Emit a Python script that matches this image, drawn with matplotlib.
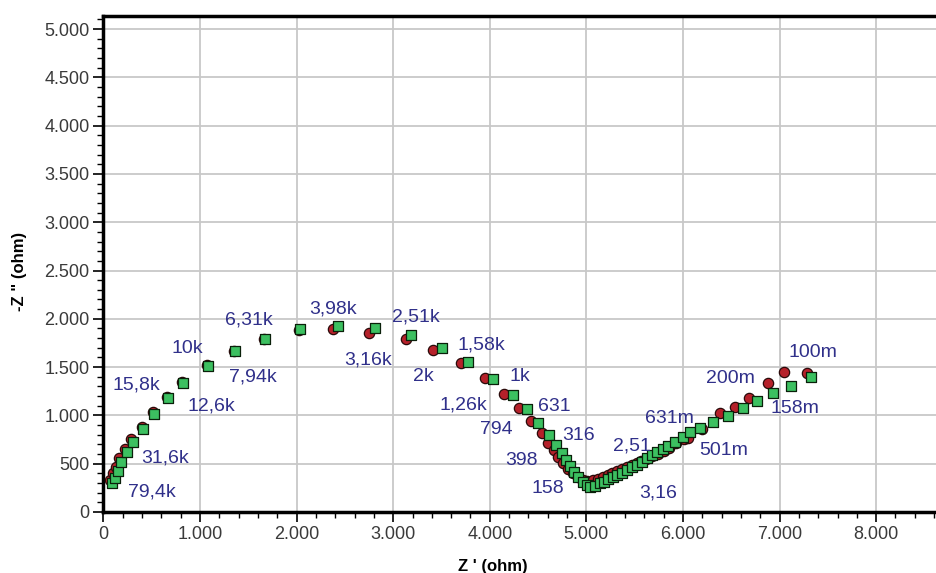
import matplotlib
matplotlib.use("Agg")
import matplotlib.pyplot as plt
from matplotlib.ticker import MultipleLocator, FuncFormatter

plt.rcParams['font.family'] = ['Liberation Sans', 'DejaVu Sans']

# green series (Z', -Z'')
green_x = [86, 120, 148, 182, 241, 310, 413, 524, 672, 827,
           1086, 1365, 1676, 2038, 2432, 2808, 3181, 3502, 3777, 4030,
           4237, 4388, 4502, 4613, 4685, 4744, 4789, 4830, 4875, 4916,
           4962, 5003, 5037, 5089, 5141, 5182, 5227, 5272, 5320, 5365,
           5417, 5469, 5521, 5572, 5624, 5676, 5734, 5790, 5848, 5917,
           5997, 6072, 6176, 6308, 6463, 6618, 6763, 6929, 7115, 7322]
green_y = [297, 352, 428, 521, 618, 728, 856, 1011, 1177, 1338,
           1511, 1664, 1791, 1891, 1925, 1905, 1829, 1701, 1556, 1377,
           1208, 1066, 918, 797, 694, 608, 538, 476, 417, 365,
           314, 280, 256, 269, 297, 314, 339, 359, 383, 407,
           435, 463, 487, 521, 556, 590, 624, 652, 683, 728,
           780, 831, 870, 929, 994, 1073, 1152, 1229, 1304, 1394]

# red series
red_x = [70, 100, 130, 165, 225, 290, 395, 510, 655, 815,
         1070, 1355, 1665, 2025, 2380, 2753, 3133, 3415, 3702, 3950,
         4147, 4302, 4427, 4543, 4606, 4660, 4710, 4760, 4810, 4860,
         4910, 4960, 5010, 5071, 5120, 5170, 5220, 5270, 5320, 5370,
         5420, 5470, 5520, 5570, 5620, 5680, 5740, 5800, 5860, 5930,
         6010, 6055, 6193, 6383, 6538, 6686, 6883, 7045, 7287]
red_y = [330, 400, 470, 560, 650, 760, 880, 1030, 1190, 1350,
         1520, 1670, 1795, 1880, 1891, 1856, 1788, 1674, 1542, 1390,
         1222, 1077, 945, 821, 717, 640, 570, 505, 450, 400,
         360, 335, 325, 331, 345, 360, 380, 400, 420, 440,
         462, 485, 505, 527, 550, 575, 600, 630, 665, 710,
         760, 763, 856, 1022, 1090, 1183, 1332, 1449, 1436]

# frequency annotations (text, x, y)
freq_labels = ["79,4k", "31,6k", "15,8k", "12,6k", "10k", "7,94k", "6,31k",
               "3,98k", "3,16k", "2,51k", "2k", "1,58k", "1,26k", "1k",
               "794", "631", "398", "316", "158", "2,51", "3,16",
               "631m", "501m", "200m", "158m", "100m"]
freq_x = [500, 638, 337, 1121, 873, 1552, 1510,
          2374, 2739, 3236, 3308, 3916, 3723, 4313,
          4071, 4665, 4330, 4923, 4602, 5469, 5744,
          5858, 6417, 6494, 7159, 7349]
freq_y = [210, 556, 1315, 1097, 1695, 1401, 1988,
          2098, 1573, 2022, 1401, 1729, 1108, 1401,
          849, 1097, 538, 787, 248, 686, 194,
          970, 635, 1384, 1073, 1649]

fig = plt.figure(figsize=(9.37, 5.73), dpi=100)
ax = fig.add_axes([0.1104, 0.1065, 0.8896, 0.8656])

ax.scatter(red_x, red_y, s=55, marker='o', color='#b5212a',
           edgecolors='#2a0a0a', linewidths=0.9, zorder=3)
ax.scatter(green_x, green_y, s=45, marker='s', color='#3cc060',
           edgecolors='#0a200a', linewidths=0.9, zorder=4)

for t, x, y in zip(freq_labels, freq_x, freq_y):
    ax.text(x, y, t, ha='center', va='center', fontsize=14,
            color='#30308a', zorder=5)

ax.set_xlim(0, 8630)
ax.set_ylim(0, 5135)
ax.xaxis.set_major_locator(MultipleLocator(1000))
ax.xaxis.set_minor_locator(MultipleLocator(200))
ax.yaxis.set_major_locator(MultipleLocator(500))
ax.yaxis.set_minor_locator(MultipleLocator(100))
fmt = FuncFormatter(lambda v, p: '{:,}'.format(int(round(v))).replace(',', '.'))
ax.xaxis.set_major_formatter(fmt)
ax.yaxis.set_major_formatter(fmt)

ax.grid(True, which='major', color='#c8c8c8', linewidth=1.3)
ax.set_axisbelow(True)
for side in ['left', 'top', 'bottom']:
    ax.spines[side].set_linewidth(2.5)
    ax.spines[side].set_color('black')
ax.spines['right'].set_visible(False)

ax.tick_params(which='major', direction='out', length=7, width=1.2,
               labelsize=13, labelcolor='#3a3a3a', pad=3)
ax.tick_params(which='minor', direction='out', length=4, width=1.0)

ax.set_xlabel("Z ' (ohm)", fontsize=12, fontweight='bold')
ax.set_ylabel('-Z " (ohm)', fontsize=12, fontweight='bold')
ax.xaxis.set_label_coords(0.467, -0.095)
ax.yaxis.set_label_coords(-0.092, 0.484)

fig.savefig("out.png", dpi=100)
